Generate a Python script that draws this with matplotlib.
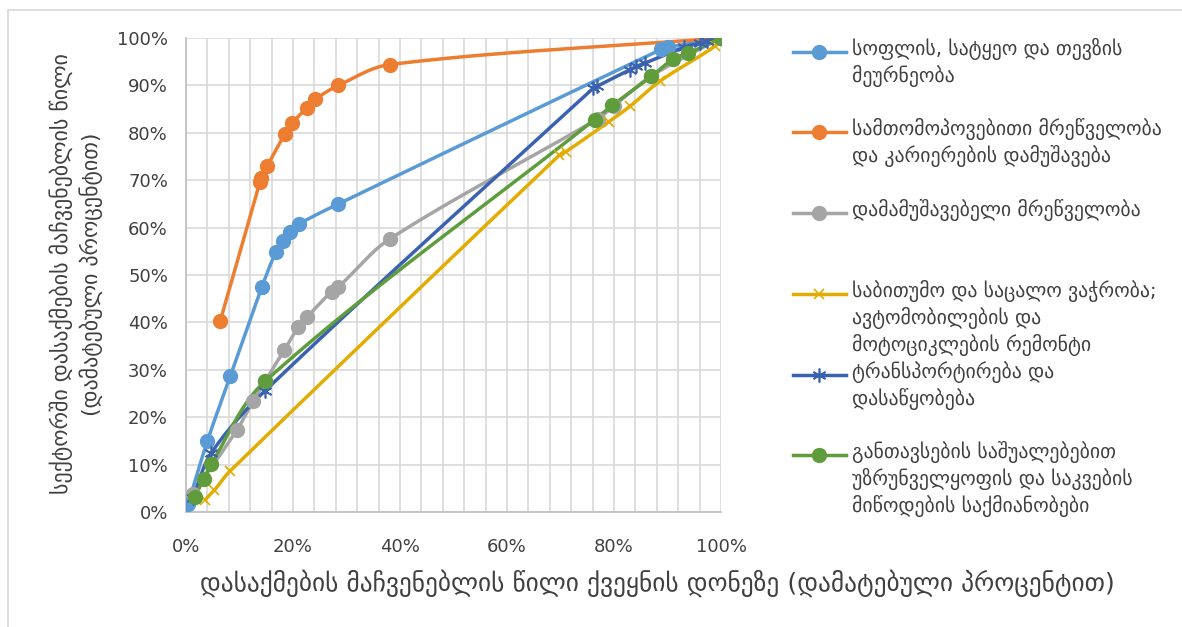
import matplotlib.pyplot as plt
from matplotlib.lines import Line2D
from matplotlib.patches import Rectangle
from matplotlib.ticker import MultipleLocator, PercentFormatter
import numpy as np

# series values (x = share at country level, y = share in sector), in %
agri_x = [0.4, 4.0, 8.3, 14.2, 16.8, 18.1, 19.4, 21.2, 28.5, 88.8, 90.0, 100]
agri_y = [1.7, 15.0, 28.7, 47.5, 54.9, 57.2, 59.1, 60.8, 65.0, 97.6, 98.0, 100]

mining_x = [6.4, 13.8, 14.0, 15.2, 18.5, 19.9, 22.6, 24.2, 28.5, 38.1, 100]
mining_y = [40.3, 69.6, 70.4, 73.0, 79.8, 82.1, 85.3, 87.1, 90.0, 94.4, 100]

manuf_x = [1.3, 9.5, 12.6, 14.8, 18.4, 21.0, 22.7, 27.2, 28.5, 38.1, 77.0, 80.0, 87.0, 100]
manuf_y = [3.8, 17.3, 23.5, 27.6, 34.2, 39.0, 41.2, 46.5, 47.5, 57.6, 83.0, 85.7, 92.0, 100]

trade_x = [3.6, 5.3, 8.2, 69.8, 71.0, 79.0, 83.0, 88.6, 98.9, 100]
trade_y = [2.6, 4.6, 8.6, 75.3, 76.0, 82.3, 85.6, 90.9, 98.3, 100]

transp_x = [1.3, 4.7, 14.8, 76.1, 76.8, 83.0, 84.2, 85.8, 93.0, 96.0, 97.3, 100]
transp_y = [3.0, 12.4, 25.6, 89.4, 89.8, 93.3, 94.0, 94.7, 98.0, 98.9, 99.4, 100]

accom_x = [1.6, 3.3, 4.7, 14.8, 76.4, 79.7, 87.0, 91.1, 93.9, 100]
accom_y = [3.1, 6.9, 10.1, 27.6, 82.8, 85.8, 91.9, 95.6, 96.8, 100]

labels = [
    "სოფლის, სატყეო და თევზის\nმეურნეობა",
    "სამთომოპოვებითი მრეწველობა\nდა კარიერების დამუშავება",
    "დამამუშავებელი მრეწველობა",
    "საბითუმო და საცალო ვაჭრობა;\nავტომობილების და\nმოტოციკლების რემონტი",
    "ტრანსპორტირება და\nდასაწყობება",
    "განთავსების საშუალებებით\nუზრუნველყოფის და საკვების\nმიწოდების საქმიანობები",
]

xlabel = "დასაქმების მაჩვენებლის წილი ქვეყნის დონეზე (დამატებული პროცენტით)"
ylabel = "სექტორში დასაქმების მაჩვენებლის წილი\n(დამატებული პროცენტით)"


def smooth(x, y, n=24):
    # smoothed line through the points (tangents weighted by segment length so
    # closely spaced points don't overshoot)
    p = np.column_stack([x, y]).astype(float)
    p = np.vstack([p[0], p, p[-1]])
    t = np.linspace(0, 1, n)[:, None]
    out = []
    for i in range(1, len(p) - 2):
        p0, p1, p2, p3 = p[i - 1], p[i], p[i + 1], p[i + 2]
        d0 = np.hypot(*(p1 - p0))
        d1 = np.hypot(*(p2 - p1))
        d2 = np.hypot(*(p3 - p2))
        t1 = (p2 - p0) / max(d0 + d1, 1e-9)
        t2 = (p3 - p1) / max(d1 + d2, 1e-9)
        c1 = p1 + t1 * d1 / 3
        c2 = p2 - t2 * d1 / 3
        b = (1 - t) ** 3 * p1 + 3 * (1 - t) ** 2 * t * c1 + 3 * (1 - t) * t ** 2 * c2 + t ** 3 * p2
        out.append(b)
    out = np.vstack(out)
    return out[:, 0], out[:, 1]


series = [
    (agri_x, agri_y, "#5B9BD5", "o"),
    (mining_x, mining_y, "#ED7D31", "o"),
    (manuf_x, manuf_y, "#A5A5A5", "o"),
    (trade_x, trade_y, "#E2AC00", "x"),
    (transp_x, transp_y, "#3A62B0", "*"),
    (accom_x, accom_y, "#5E9C3C", "o"),
]

geo_font = ["DejaVu Sans"]
txt_col = "#404040"

W, H = 1182, 627
fig = plt.figure(figsize=(W / 100, H / 100), dpi=100)
ax = fig.add_axes([186 / W, 1 - 512 / H, 535 / W, 474 / H])


def marker_kw(mk, col):
    if mk == "o":
        return dict(marker="o", ms=10, color=col)
    if mk == "x":
        return dict(marker="x", ms=7, mew=1.2, color=col)
    return dict(marker=(6, 2, 0), ms=10, mew=1.2, color=col)


for x, y, col, mk in series:
    sx, sy = smooth(x, y)
    ax.plot(sx, sy, color=col, lw=2.5, solid_capstyle="round", zorder=3)
    ax.plot(x, y, ls="none", zorder=4, **marker_kw(mk, col))

ax.set_xlim(0, 100)
ax.set_ylim(0, 100)
ax.xaxis.set_major_locator(MultipleLocator(20))
ax.xaxis.set_minor_locator(MultipleLocator(4))
ax.yaxis.set_major_locator(MultipleLocator(10))
ax.xaxis.set_major_formatter(PercentFormatter(decimals=0))
ax.yaxis.set_major_formatter(PercentFormatter(decimals=0))
ax.grid(which="both", axis="x", color="#D9D9D9", lw=1.2)
ax.grid(which="major", axis="y", color="#D9D9D9", lw=1.2)
ax.set_axisbelow(True)
for s in ["top", "right"]:
    ax.spines[s].set_visible(False)
for s in ["left", "bottom"]:
    ax.spines[s].set_color("#BFBFBF")
    ax.spines[s].set_linewidth(1.2)
ax.tick_params(which="both", length=0)
ax.tick_params(axis="x", pad=19, labelsize=13, labelcolor=txt_col)
ax.tick_params(axis="y", pad=13, labelsize=13, labelcolor=txt_col)

fig.text(657 / W, 1 - 583 / H, xlabel, ha="center", va="center",
         fontsize=18.3, color=txt_col, family=geo_font)
fig.text(76 / W, 1 - 274 / H, ylabel, ha="center", va="center", rotation=90,
         fontsize=15.8, color=txt_col, family=geo_font, linespacing=1.32)

# legend drawn by hand to match its spacing
leg_y = [52, 132, 213, 294, 375, 455]
for (x, y, col, mk), lab, ly in zip(series, labels, leg_y):
    fy = 1 - ly / H
    fig.add_artist(Line2D([793 / W, 846 / W], [fy, fy], color=col, lw=2.5,
                          transform=fig.transFigure))
    fig.add_artist(Line2D([819 / W], [fy], transform=fig.transFigure, **marker_kw(mk, col)))
    fig.text(852 / W, 1 - (ly - 14) / H, lab, ha="left", va="top", fontsize=14.2,
             color=txt_col, family=geo_font, linespacing=1.3)

fig.add_artist(Rectangle((8 / W, -0.1), 1.2, 1.1 - 10 / H, transform=fig.transFigure,
                         fill=False, edgecolor="#D9D9D9", lw=1.2))

fig.savefig("out.png", dpi=100)
